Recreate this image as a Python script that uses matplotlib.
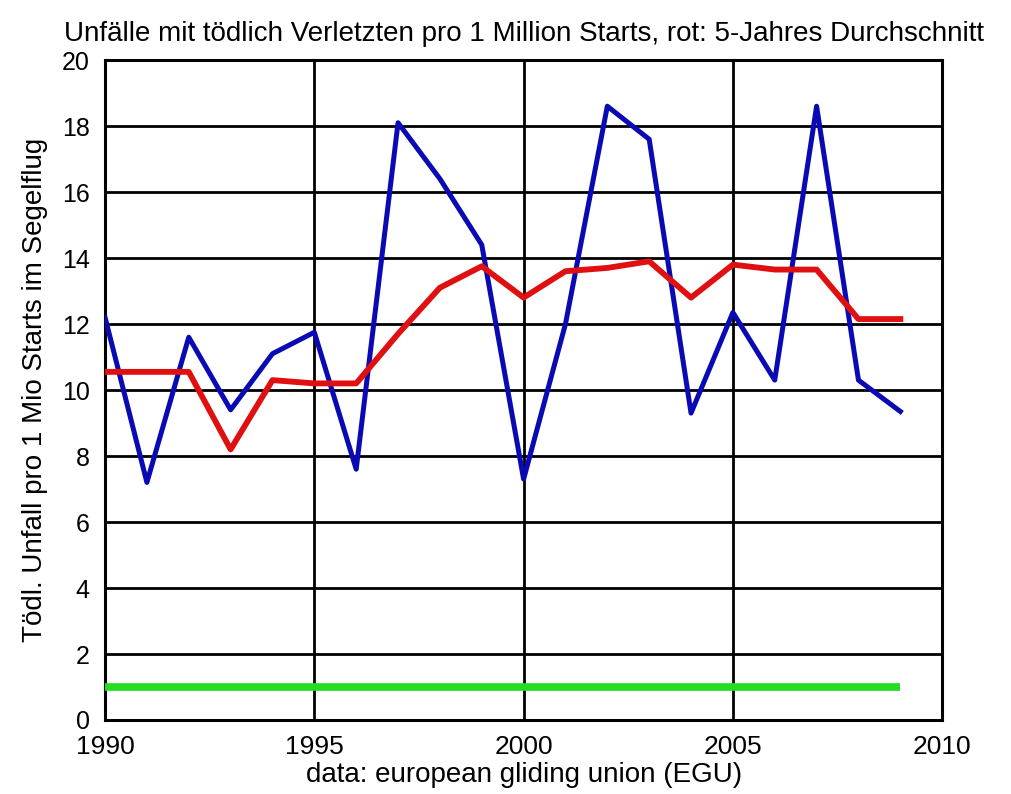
import matplotlib.pyplot as plt

years = list(range(1990, 2010))
fatal_rate = [12.2, 7.2, 11.6, 9.4, 11.1, 11.75, 7.6, 18.1, 16.4, 14.4,
              7.3, 12.0, 18.6, 17.6, 9.3, 12.35, 10.3, 18.6, 10.3, 9.35]
avg_5y = [10.55, 10.55, 10.55, 8.2, 10.3, 10.2, 10.2, 11.7, 13.1, 13.75,
          12.8, 13.6, 13.7, 13.9, 12.8, 13.8, 13.65, 13.65, 12.15, 12.15]
target = [1.0] * len(years)

plt.rcParams['font.family'] = ['Liberation Sans', 'DejaVu Sans']

fig = plt.figure(figsize=(10.12, 7.94), dpi=100)
ax = fig.add_axes([0.1038, 0.0932, 0.8272, 0.8312])

ax.plot(years, target, color="#22dd22", lw=5.5, solid_capstyle="butt", zorder=3)
ax.plot(years, fatal_rate, color="#0a0ab4", lw=3.6, zorder=4)
ax.plot(years, avg_5y, color="#e01010", lw=4.2, zorder=5)

ax.set_xlim(1990, 2010)
ax.set_ylim(0, 20)
ax.set_xticks(range(1990, 2011, 5))
ax.set_yticks(range(0, 21, 2))
ax.grid(True, color="black", lw=2)
ax.set_axisbelow(True)
for s in ax.spines.values():
    s.set_linewidth(2.2)
ax.tick_params(length=0)
ax.tick_params(axis="x", pad=11, labelsize=19)
ax.tick_params(axis="y", pad=11, labelsize=18)

ax.set_title("Unfälle mit tödlich Verletzten pro 1 Million Starts, rot: 5-Jahres Durchschnitt",
             fontsize=20, pad=14, x=0.5)
ax.set_ylabel("Tödl. Unfall pro 1 Mio Starts im Segelflug", fontsize=20, labelpad=10)
ax.set_xlabel("data: european gliding union (EGU)", fontsize=20, labelpad=2)

fig.savefig("out.png", dpi=100)
